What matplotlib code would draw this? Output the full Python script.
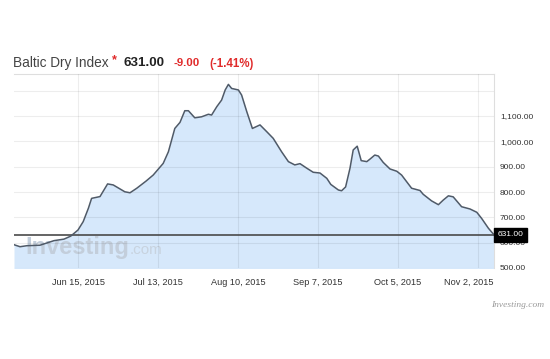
import matplotlib
matplotlib.use("Agg")
import matplotlib.pyplot as plt
import matplotlib.transforms as mtrans

plt.rcParams["font.family"] = ["Liberation Sans", "DejaVu Sans"]

# Indice Baltic Dry (x = dia habil desde el inicio)
dias = [0, 1.5, 3.2, 6.5, 10, 12.5, 14.2, 16, 17.3, 18.6, 19.4, 21.5, 23.4, 24.8,
        27.7, 29, 30.7, 33, 34.8, 37.3, 38.6, 40.2, 41.5, 42.7, 43.6, 45.2, 46.9,
        48.6, 49.4, 50.7, 51.9, 52.8, 53.6, 54.4, 56.1, 56.9, 58.2, 59.6, 61.5,
        63.2, 64.8, 66.9, 68.6, 70.2, 71.5, 73.2, 74.8, 76.5, 78.2, 79.2, 81.1,
        81.9, 82.9, 84, 84.8, 85.8, 86.8, 88.2, 89, 90.2, 91.1, 92.3, 94, 95.7,
        96.9, 99.4, 101.5, 102.3, 104.4, 106.1, 107.3, 108.6, 109.8, 111.9, 114,
        115.7, 116.9, 118.6, 120]
valores = [592, 584, 588, 590, 608, 614, 626, 650, 683, 736, 775, 782, 832, 828,
           801, 797, 815, 843, 867, 913, 959, 1051, 1075, 1121, 1121, 1093, 1097,
           1107, 1104, 1137, 1163, 1203, 1225, 1209, 1203, 1183, 1117, 1051, 1065,
           1038, 1012, 959, 920, 907, 912, 894, 878, 875, 854, 830, 808,
           805, 820, 894, 966, 981, 924, 920, 930, 946, 942, 917, 891, 882,
           867, 815, 806, 791, 765, 750, 768, 785, 781, 742, 733,
           720, 696, 657, 631]

ultimo = 631.00
cambio = -9.00
cambio_pct = -1.41

fechas_pos = [16, 36, 56, 76, 96, 116]
fechas = ["Jun 15, 2015", "Jul 13, 2015", "Aug 10, 2015", "Sep 7, 2015",
          "Oct 5, 2015", "Nov 2, 2015"]
niveles = [500, 600, 700, 800, 900, 1000, 1100, 1200]

fig = plt.figure(figsize=(5.5, 3.59), dpi=100)
ax = fig.add_axes([14 / 550, 91 / 359, 480 / 550, 194 / 359])

ax.fill_between(dias, valores, 0, color="#d6e8fb", zorder=1, linewidth=0)
ax.plot(dias, valores, color="#4f5a68", linewidth=1.1, zorder=4,
        solid_joinstyle="round")
ax.axhline(ultimo, color="#4a4a4a", linewidth=1.2, zorder=3)

ax.set_xlim(0, 120)
ax.set_ylim(500, 1266)

ax.set_yticks(niveles)
ax.set_yticklabels([f"{v:,.2f}" if v < 1200 else "" for v in niveles])
ax.yaxis.tick_right()
ax.set_xticks(fechas_pos)
ax.set_xticklabels(fechas)
ax.tick_params(axis="y", length=0, pad=4.3, labelsize=6, labelcolor="#333333")
ax.tick_params(axis="x", length=0, pad=7, labelsize=6.6, labelcolor="#333333")

# la ultima fecha queda pegada al borde derecho
lab = ax.get_xticklabels()[-1]
lab.set_horizontalalignment("right")
lab.set_transform(lab.get_transform() +
                  mtrans.ScaledTranslation(0.16, 0, fig.dpi_scale_trans))

ax.grid(True, color="black", alpha=0.07, linewidth=0.8, zorder=2)
ax.set_axisbelow(False)
for s in ["left", "bottom"]:
    ax.spines[s].set_visible(False)
for s in ["top", "right"]:
    ax.spines[s].set_color("#dedede")
    ax.spines[s].set_linewidth(0.8)

# etiqueta del ultimo valor
ax.text(1.008, ultimo, f"{ultimo:.2f}", transform=ax.get_yaxis_transform(),
        ha="left", va="center", fontsize=6, color="white", zorder=6,
        bbox=dict(boxstyle="square,pad=0.45", fc="black", ec="black"),
        clip_on=False)

# marca de agua
t1 = ax.text(0.023, 0.045, "Investing", transform=ax.transAxes, fontsize=17,
             fontweight="bold", color="#c3cedb", zorder=2, va="bottom")
ax.annotate(".com", xy=(1, 0), xycoords=t1, xytext=(0.5, 1.5),
            textcoords="offset points", fontsize=11, color="#c8d3df",
            va="bottom", zorder=2)

# titulo
fig.text(13 / 550, 1 - 66.5 / 359, "Baltic Dry Index", fontsize=9.8,
         color="#444444", va="baseline")
fig.text(112 / 550, 1 - 63 / 359, "*", fontsize=9, color="#e02a2a",
         va="baseline", fontweight="bold")
fig.text(123 / 550, 1 - 66.5 / 359, f"{ultimo:.2f}", fontsize=9.6,
         fontweight="bold", color="#222222", va="baseline")
fig.text(173 / 550, 1 - 66.5 / 359, f"{cambio:.2f}", fontsize=8.2,
         fontweight="bold", color="#e02a2a", va="baseline")
fig.text(209 / 550, 1 - 66.5 / 359, f"({cambio_pct:.2f}%)", fontsize=8.3,
         fontweight="bold", color="#e02a2a", va="baseline")

fig.text(544 / 550, 1 - 307 / 359, "Investing.com", fontsize=6.8,
         family="Liberation Serif", style="italic", color="#9a9a9a",
         ha="right", va="baseline")

fig.savefig("out.png", dpi=100)
